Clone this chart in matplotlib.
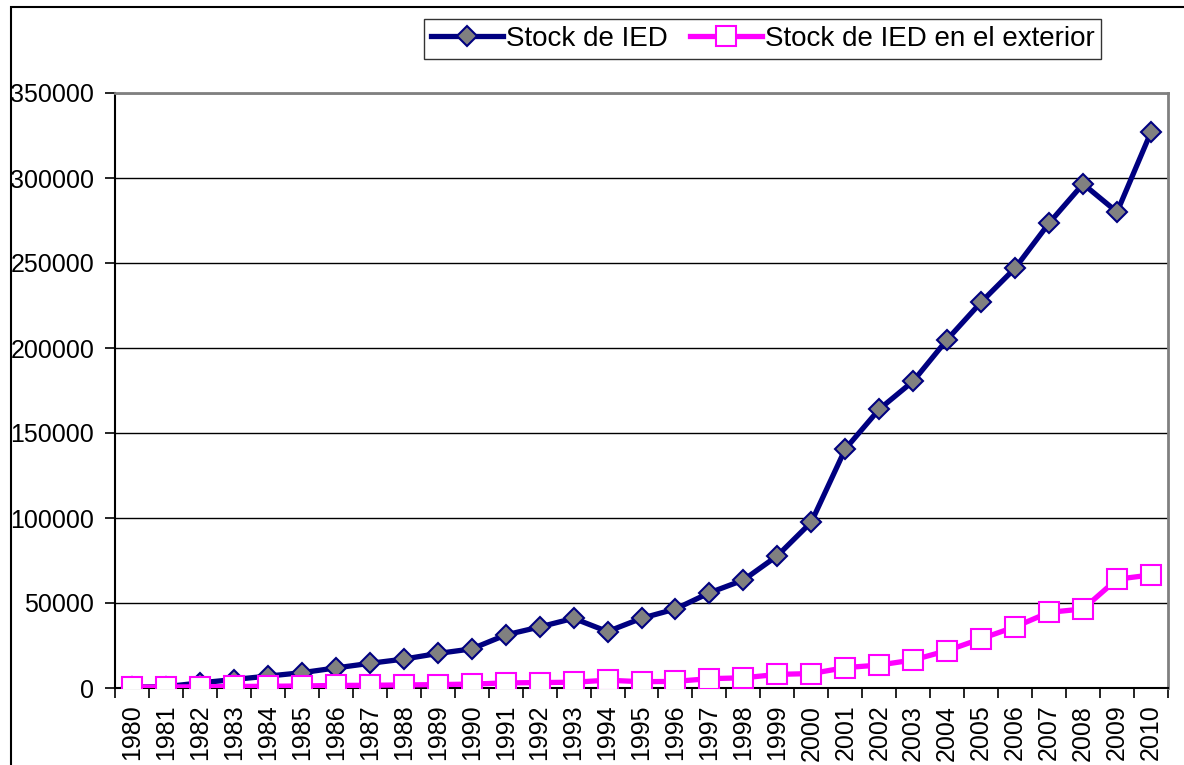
import numpy as np
import matplotlib.pyplot as plt
from matplotlib.patches import Rectangle

plt.rcParams['font.family'] = ['Liberation Sans', 'DejaVu Sans']

# datos
years = [str(y) for y in range(1980, 2011)]
stock_ied = [500, 800, 3000, 5000, 7000, 9000, 11800, 14500, 17000, 20300, 23000,
             31200, 35900, 41000, 33200, 41000, 46500, 56000, 63500, 77800, 97600,
             140600, 164000, 180500, 205000, 227000, 247000, 273500, 296500, 280000, 327000]
stock_ext = [500, 600, 700, 900, 1000, 1200, 1500, 1600, 1800, 2000, 2300,
             3000, 3200, 3400, 4600, 3700, 3900, 5500, 6000, 8000, 8500,
             12000, 13500, 16500, 22000, 29000, 36000, 44500, 46500, 64000, 66500]
yticks = [0, 50000, 100000, 150000, 200000, 250000, 300000, 350000]

fig = plt.figure(figsize=(11.84, 7.65), dpi=100)
ax = fig.add_axes([115 / 1184, 1 - 688 / 765, 1053 / 1184, 595 / 765])

x = np.arange(len(years))
ax.plot(x, stock_ied, color='#000080', lw=3.8, marker='D', markersize=10,
        markerfacecolor='#808080', markeredgecolor='#000080', markeredgewidth=1.5,
        label='Stock de IED', zorder=3)
ax.plot(x, stock_ext, color='#FF00FF', lw=3.8, marker='s', markersize=14,
        markerfacecolor='white', markeredgecolor='#FF00FF', markeredgewidth=1.5,
        label='Stock de IED en el exterior', zorder=4)

ax.set_xlim(-0.5, len(years) - 0.5)
ax.set_ylim(0, 350000)
ax.set_yticks(yticks)
ax.set_yticklabels([str(v) for v in yticks], fontsize=18)
ax.yaxis.grid(True, color='black', lw=1)
ax.set_axisbelow(True)

# ticks entre categorias, etiquetas centradas
ax.set_xticks(np.arange(-0.5, len(years), 1.0))
ax.set_xticklabels([])
ax.set_xticks(x, minor=True)
ax.set_xticklabels(years, minor=True, rotation=90, fontsize=18)
ax.tick_params(axis='x', which='major', length=7, width=1.2, direction='out')
ax.tick_params(axis='x', which='minor', length=0, pad=12)
ax.tick_params(axis='y', length=7, width=1.2, direction='out', pad=8)

ax.spines['left'].set_color('black')
ax.spines['bottom'].set_color('black')
ax.spines['left'].set_linewidth(1.5)
ax.spines['bottom'].set_linewidth(1.5)
ax.spines['top'].set_color('#808080')
ax.spines['right'].set_color('#808080')
ax.spines['top'].set_linewidth(2)
ax.spines['right'].set_linewidth(2)

leg = fig.legend(loc='center', bbox_to_anchor=((432 + 1093) / 2 / 1184, 1 - 39 / 765),
                 ncol=2, fontsize=20, frameon=True, fancybox=False, handlelength=2.6,
                 handletextpad=0.1, columnspacing=0.8, borderpad=0.25, borderaxespad=0)
leg.get_frame().set_edgecolor('black')
leg.get_frame().set_linewidth(1)

# borde exterior
fig.patches.append(Rectangle((11 / 1184, -0.1), 1.2, 1.1 - 7 / 765, transform=fig.transFigure,
                             fill=False, edgecolor='black', lw=1.5, clip_on=False))

fig.savefig('out.png', dpi=100)
